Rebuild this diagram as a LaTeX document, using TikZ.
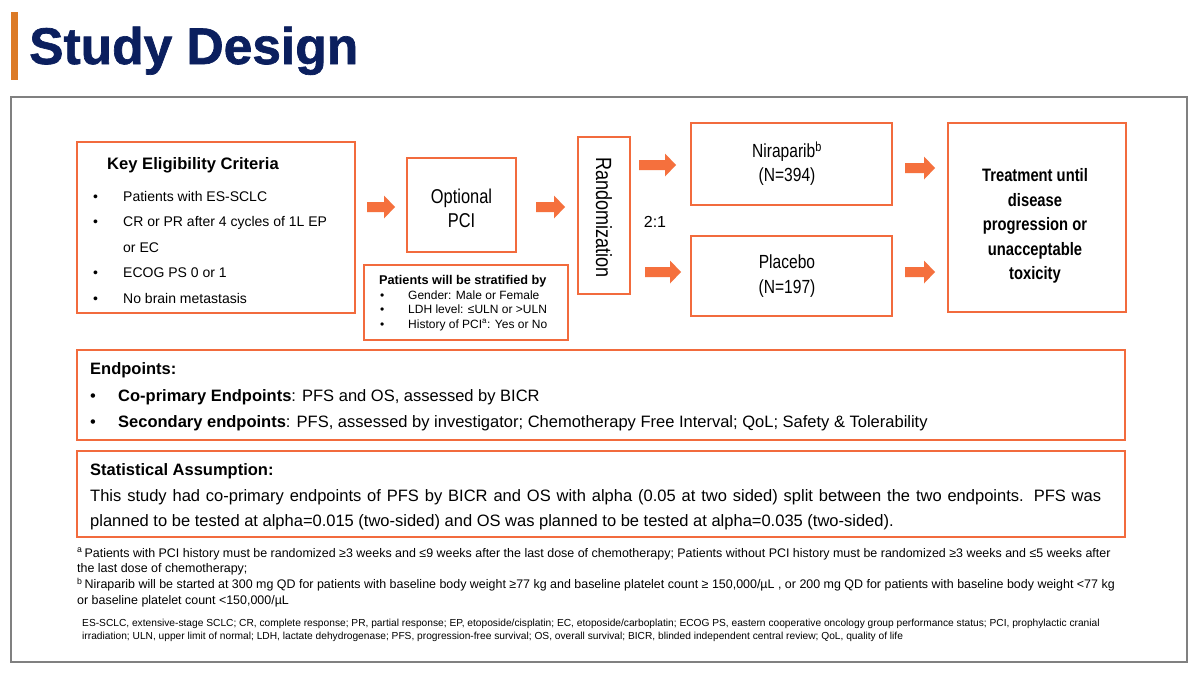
\documentclass[tikz,border=0pt]{standalone}
\usepackage{fontspec}
\setmainfont{Liberation Sans}
\newfontfamily\narrowf[FakeStretch=0.82]{Liberation Sans}
\newfontfamily\titlef[FakeBold=1.3]{Liberation Sans Bold}
\definecolor{boxc}{HTML}{F26B3D}
\definecolor{arrc}{HTML}{F5703D}
\definecolor{navy}{HTML}{0B1F5E}
\definecolor{barc}{HTML}{DC7A26}
\definecolor{framec}{HTML}{808080}
\newcommand{\barrow}[3]{\fill[arrc] (#1,#2-5) -- (#1+#3-11,#2-5) -- (#1+#3-11,#2-11.5) -- (#1+#3,#2) -- (#1+#3-11,#2+11.5) -- (#1+#3-11,#2+5) -- (#1,#2+5) -- cycle;}
\begin{document}
\begin{tikzpicture}[x=1pt,y=-1pt,
  obox/.style={draw=boxc, line width=2pt, rectangle, inner sep=0pt},
  txt/.style={inner sep=0pt, text=black}]
\useasboundingbox (0,0) rectangle (1200,675);
\fill[white] (0,0) rectangle (1200,675);
% title
\fill[barc] (11,12) rectangle (18,80);
\node[anchor=base west, inner sep=0pt, text=navy, font=\titlef\fontsize{51.5}{51.5}\selectfont] (title) at (29,64) {Study Design};
\draw[framec, line width=1.2pt] (11,97) rectangle (1187,662);

% boxes
\node[obox, minimum width=278, minimum height=171] (key) at (216,227.5) {};
\node[obox, minimum width=109, minimum height=94] (pci) at (461.5,205) {};
\node[obox, minimum width=204, minimum height=75] (strat) at (466,302.5) {};
\node[obox, minimum width=52, minimum height=157] (rand) at (604,215.5) {};
\node[obox, minimum width=201, minimum height=82] (nira) at (791.5,163.5) {};
\node[obox, minimum width=201, minimum height=80] (plac) at (791.5,276) {};
\node[obox, minimum width=178, minimum height=189] (treat) at (1037,217.5) {};
\node[obox, minimum width=1048, minimum height=90] (endp) at (601,395) {};
\node[obox, minimum width=1048, minimum height=86] (stat) at (601,494) {};

% key eligibility
\node[txt, anchor=north west, font=\fontsize{16.6}{16.6}\selectfont\bfseries] (keyt) at (107,157) {Key Eligibility Criteria};
\node[txt, anchor=north west, align=left, font=\fontsize{14}{25.5}\selectfont] (keyl) at (93,191) {%
\makebox[30pt][l]{•}Patients with ES-SCLC\\
\makebox[30pt][l]{•}CR or PR after 4 cycles of 1L EP\\
\hspace*{30pt}or EC\\
\makebox[30pt][l]{•}ECOG PS 0 or 1\\
\makebox[30pt][l]{•}No brain metastasis};

% optional PCI
\node[txt, align=center, font=\narrowf\fontsize{20}{24}\selectfont] (pcit) at (461.5,208.5) {Optional\\PCI};

% stratified
\node[txt, anchor=north west, align=left, font=\fontsize{12}{14.6}\selectfont] (stratt) at (379,275) {%
{\fontsize{12.7}{14.6}\selectfont\bfseries Patients will be stratified by}\\
\hspace*{1pt}\makebox[28pt][l]{•}Gender: Male or Female\\
\hspace*{1pt}\makebox[28pt][l]{•}LDH level: ≤ULN or >ULN\\
\hspace*{1pt}\makebox[28pt][l]{•}History of PCI\textsuperscript{a}: Yes or No};

% randomization
\node[txt, rotate=-90, font=\narrowf\fontsize{22}{22}\selectfont] (randt) at (604,217.5) {Randomization};
\node[txt, font=\fontsize{16}{16}\selectfont] (ratio) at (655,222) {2:1};

% arms
\node[txt, align=center, font=\narrowf\fontsize{19}{24}\selectfont] (nirat) at (787,164) {Niraparib\textsuperscript{b}\\(N=394)};
\node[txt, align=center, font=\narrowf\fontsize{19}{25}\selectfont] (plact) at (787,276.5) {Placebo\\(N=197)};

% treatment
\node[txt, align=center, font=\narrowf\bfseries\fontsize{18}{24.5}\selectfont] (treatt) at (1035,226) {Treatment until\\disease\\progression or\\unacceptable\\toxicity};

% block arrows
\barrow{367}{207}{28}
\barrow{536}{207}{29}
\barrow{639}{165}{37}
\barrow{645}{272}{36}
\barrow{905}{168}{30}
\barrow{905}{272}{30}

% endpoints
\node[txt, anchor=north west, align=left, font=\fontsize{16.5}{26.5}\selectfont] (endpt) at (90,362.5) {%
\textbf{Endpoints:}\\
\makebox[28pt][l]{•}\textbf{Co-primary Endpoints}: PFS and OS, assessed by BICR\\
\makebox[28pt][l]{•}\textbf{Secondary endpoints}: PFS, assessed by investigator; Chemotherapy Free Interval; QoL; Safety \& Tolerability};

% statistical
\node[txt, anchor=north west, align=left, font=\fontsize{16.5}{25.5}\selectfont] (statt) at (90,463.5) {%
\textbf{Statistical Assumption:}\\
\makebox[1011pt][s]{This study had co-primary endpoints of PFS by BICR and OS with alpha (0.05 at two sided) split between the two endpoints. PFS was}\\
planned to be tested at alpha=0.015 (two-sided) and OS was planned to be tested at alpha=0.035 (two-sided).};

% footnotes
\node[txt, anchor=north west, align=left, font=\fontsize{12.45}{15.6}\selectfont] (foot) at (77,548) {%
\textsuperscript{a}\,Patients with PCI history must be randomized ≥3 weeks and ≤9 weeks after the last dose of chemotherapy; Patients without PCI history must be randomized ≥3 weeks and ≤5 weeks after\\
the last dose of chemotherapy;\\
\textsuperscript{b}\,Niraparib will be started at 300 mg QD for patients with baseline body weight ≥77 kg and baseline platelet count ≥ 150,000/µL , or 200 mg QD for patients with baseline body weight <77 kg\\
or baseline platelet count <150,000/µL};

\node[txt, anchor=north west, align=left, font=\fontsize{10.2}{13}\selectfont] (abbr) at (82,618.5) {%
ES-SCLC, extensive-stage SCLC; CR, complete response; PR, partial response; EP, etoposide/cisplatin; EC, etoposide/carboplatin; ECOG PS, eastern cooperative oncology group performance status; PCI, prophylactic cranial\\
irradiation; ULN, upper limit of normal; LDH, lactate dehydrogenase; PFS, progression-free survival; OS, overall survival; BICR, blinded independent central review; QoL, quality of life};
\end{tikzpicture}
\end{document}
